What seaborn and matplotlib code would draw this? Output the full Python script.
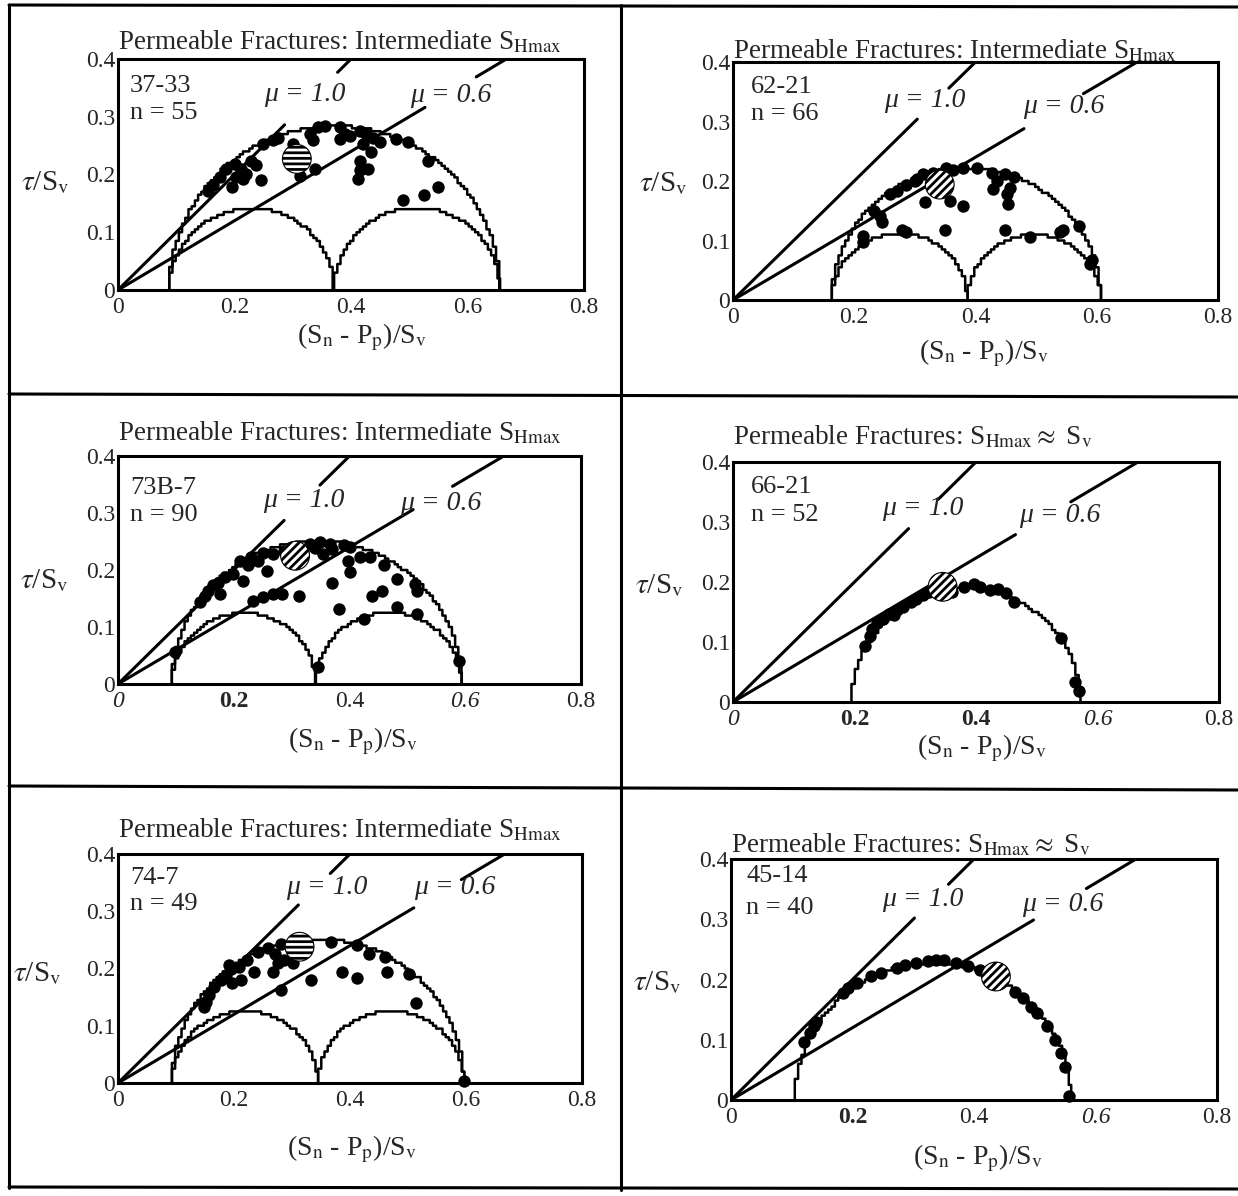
import numpy as np
import matplotlib
matplotlib.use("Agg")
import matplotlib.pyplot as plt
import seaborn as sns
from matplotlib.lines import Line2D

# ---- values ----
wells = ["37-33", "62-21", "73B-7", "66-21", "74-7", "45-14"]
n_frac = [55, 66, 90, 52, 49, 40]
equal_shmax = [False, False, False, True, False, True]   # S_Hmax ~ S_v panels

# effective principal stresses / Sv
s3 = [0.088, 0.163, 0.093, 0.195, 0.093, 0.105]
s2 = [0.371, 0.387, 0.342, 0.572, 0.345, 0.560]
s1 = [0.656, 0.607, 0.594, 0.572, 0.597, 0.560]

mu_vals = [1.0, 0.6]

# hatched symbol per well
mean_sn = [0.307, 0.341, 0.306, 0.345, 0.313, 0.436]
mean_tau = [0.227, 0.194, 0.225, 0.192, 0.238, 0.205]

# fracture points (normal stress, shear stress)
p1_sn = [0.155, 0.163, 0.175, 0.186, 0.200, 0.212, 0.220, 0.203, 0.195, 0.215,
         0.229, 0.237, 0.246, 0.249, 0.266, 0.275, 0.300, 0.329, 0.343, 0.355,
         0.381, 0.389, 0.381, 0.335, 0.398, 0.312, 0.338, 0.415, 0.426, 0.438,
         0.449, 0.421, 0.435, 0.415, 0.429, 0.415, 0.412, 0.478, 0.498, 0.532,
         0.489, 0.526, 0.549]
p1_tau = [0.172, 0.181, 0.195, 0.210, 0.218, 0.210, 0.201, 0.195, 0.178, 0.193,
          0.224, 0.216, 0.190, 0.253, 0.259, 0.264, 0.253, 0.270, 0.282, 0.284,
          0.282, 0.270, 0.261, 0.259, 0.267, 0.198, 0.210, 0.276, 0.270, 0.264,
          0.256, 0.253, 0.239, 0.224, 0.210, 0.207, 0.193, 0.261, 0.256, 0.224,
          0.155, 0.164, 0.178]

p2_sn = [0.215, 0.215, 0.242, 0.245, 0.259, 0.270, 0.286, 0.303, 0.314, 0.330,
         0.352, 0.363, 0.380, 0.402, 0.427, 0.435, 0.449, 0.463, 0.457, 0.452,
         0.454, 0.429, 0.317, 0.358, 0.380, 0.278, 0.286, 0.350, 0.449, 0.490,
         0.540, 0.545, 0.570, 0.592, 0.589, 0.232, 0.300]
p2_tau = [0.108, 0.097, 0.142, 0.131, 0.178, 0.183, 0.194, 0.203, 0.211, 0.214,
          0.222, 0.219, 0.222, 0.222, 0.214, 0.200, 0.211, 0.206, 0.189, 0.178,
          0.161, 0.186, 0.164, 0.167, 0.158, 0.117, 0.114, 0.117, 0.117, 0.106,
          0.114, 0.117, 0.125, 0.067, 0.061, 0.150, 0.200]

p3_sn = [0.098, 0.141, 0.150, 0.156, 0.165, 0.173, 0.176, 0.185, 0.199, 0.216,
         0.225, 0.234, 0.251, 0.268, 0.283, 0.312, 0.242, 0.257, 0.268, 0.286,
         0.332, 0.349, 0.367, 0.390, 0.401, 0.355, 0.398, 0.401, 0.369, 0.418,
         0.436, 0.459, 0.482, 0.514, 0.516, 0.439, 0.456, 0.381, 0.425, 0.482,
         0.516, 0.589, 0.346, 0.320, 0.210, 0.300, 0.230, 0.250, 0.340, 0.370]
p3_tau = [0.056, 0.143, 0.155, 0.164, 0.173, 0.178, 0.158, 0.187, 0.193, 0.181,
          0.208, 0.146, 0.152, 0.158, 0.158, 0.155, 0.216, 0.199, 0.228, 0.234,
          0.246, 0.249, 0.246, 0.243, 0.240, 0.228, 0.216, 0.196, 0.178, 0.222,
          0.222, 0.208, 0.184, 0.175, 0.164, 0.155, 0.164, 0.132, 0.114, 0.135,
          0.123, 0.041, 0.029, 0.231, 0.215, 0.215, 0.222, 0.230, 0.238, 0.236]

p4_sn = [0.218, 0.228, 0.237, 0.247, 0.257, 0.270, 0.280, 0.293, 0.302, 0.312,
         0.322, 0.335, 0.361, 0.380, 0.397, 0.406, 0.423, 0.436, 0.449, 0.462,
         0.540, 0.563, 0.569, 0.225, 0.265, 0.350]
p4_tau = [0.094, 0.122, 0.131, 0.139, 0.147, 0.153, 0.158, 0.167, 0.172, 0.178,
          0.183, 0.187, 0.183, 0.192, 0.197, 0.192, 0.186, 0.189, 0.181, 0.167,
          0.106, 0.033, 0.019, 0.110, 0.145, 0.180]

p5_sn = [0.148, 0.151, 0.157, 0.165, 0.177, 0.186, 0.194, 0.191, 0.209, 0.212,
         0.197, 0.235, 0.223, 0.241, 0.258, 0.270, 0.275, 0.267, 0.287, 0.301,
         0.281, 0.281, 0.333, 0.368, 0.386, 0.412, 0.412, 0.432, 0.461, 0.464,
         0.501, 0.513, 0.597]
p5_tau = [0.133, 0.142, 0.154, 0.168, 0.180, 0.188, 0.200, 0.206, 0.203, 0.180,
          0.174, 0.194, 0.214, 0.229, 0.235, 0.226, 0.209, 0.194, 0.214, 0.209,
          0.243, 0.162, 0.180, 0.246, 0.194, 0.183, 0.241, 0.226, 0.220, 0.194,
          0.191, 0.139, 0.004]

p6_sn = [0.120, 0.130, 0.137, 0.185, 0.192, 0.208, 0.247, 0.273, 0.286, 0.325,
         0.338, 0.351, 0.371, 0.390, 0.410, 0.468, 0.481, 0.494, 0.504, 0.520,
         0.533, 0.543, 0.550, 0.556, 0.140, 0.230, 0.305]
p6_tau = [0.097, 0.111, 0.122, 0.177, 0.186, 0.194, 0.211, 0.219, 0.224, 0.230,
          0.233, 0.233, 0.227, 0.222, 0.216, 0.180, 0.169, 0.155, 0.144, 0.122,
          0.100, 0.078, 0.055, 0.006, 0.130, 0.205, 0.228]

xticks = [0, 0.2, 0.4, 0.6, 0.8]
xtick_labels = ["0", "0.2", "0.4", "0.6", "0.8"]
yticks = [0, 0.1, 0.2, 0.3, 0.4]
ytick_labels = ["0", "0.1", "0.2", "0.3", "0.4"]

points = [(p1_sn, p1_tau), (p2_sn, p2_tau), (p3_sn, p3_tau),
          (p4_sn, p4_tau), (p5_sn, p5_tau), (p6_sn, p6_tau)]

# ---- layout (pixels of the 1238x1196 page) ----
W, H = 1238, 1196
axes_px = [(118, 584, 59, 290), (733, 1218, 62, 300),
           (118, 581, 456, 684), (733, 1219, 462, 702),
           (118, 582, 854, 1083), (731, 1217, 859, 1100)]
title_pad = [7, 2.5, 11, 13, 12, 5]
# gaps in the friction lines where the labels sit (mu=1, mu=0.6)
line_gaps = [[(0.286, 0.377), (0.527, 0.615)], [(0.304, 0.356), (0.480, 0.578)],
             [(0.287, 0.349), (0.510, 0.578)], [(0.289, 0.338), (0.465, 0.556)],
             [(0.311, 0.366), (0.510, 0.592)], [(0.302, 0.358), (0.498, 0.585)]]
mu_label_pos = [[(0.320, 0.339), (0.571, 0.336)], [(0.317, 0.336), (0.546, 0.325)],
                [(0.321, 0.322), (0.557, 0.316)], [(0.312, 0.322), (0.537, 0.311)],
                [(0.359, 0.342), (0.581, 0.342)], [(0.315, 0.332), (0.546, 0.324)]]
well_pos = [(0.020, 0.353, 0.307), (0.029, 0.358, 0.312), (0.021, 0.344, 0.296),
            (0.029, 0.358, 0.311), (0.021, 0.358, 0.313), (0.025, 0.371, 0.319)]
ylabel_pos = [(-0.157, 0.463), (-0.144, 0.49), (-0.16, 0.454),
              (-0.151, 0.486), (-0.174, 0.478), (-0.151, 0.485)]
xlabel_pos = [(0.523, -0.203), (0.518, -0.222), (0.508, -0.253),
              (0.512, -0.193), (0.504, -0.291), (0.508, -0.241)]
hatches = ["---", "////", "////", "////", "---", "////"]
# scan quirks in the x tick label fonts
xtick_styles = [None, None,
                [("italic", "normal"), ("normal", "bold"), ("normal", "normal"), ("italic", "normal"), ("normal", "normal")],
                [("italic", "normal"), ("normal", "bold"), ("normal", "bold"), ("italic", "normal"), ("normal", "normal")],
                None,
                [("normal", "normal"), ("normal", "bold"), ("normal", "normal"), ("italic", "normal"), ("normal", "normal")]]

sns.set_style("white")
plt.rcParams["font.family"] = ["Liberation Serif", "DejaVu Serif"]
plt.rcParams["mathtext.fontset"] = "stix"
plt.rcParams["hatch.linewidth"] = 2.0


def mohr_curve(lo, hi, qx=0.0055, qy=0.005):
    # coarse, plotter-like staircase of the half circle
    c, r = (lo + hi) / 2, (hi - lo) / 2
    th = np.linspace(np.pi, 0, 900)
    x = lo + np.round((c + r * np.cos(th) - lo) / qx) * qx
    x = np.minimum(x, hi)
    y = np.round(r * np.sin(th) / qy) * qy
    x[-1], y[-1] = hi, 0
    return x, y


fig = plt.figure(figsize=(W / 100, H / 100), dpi=100)

for i in range(6):
    l, r, t, b = axes_px[i]
    ax = fig.add_axes([l / W, 1 - b / H, (r - l) / W, (b - t) / H])
    ax.set_xlim(0, 0.8)
    ax.set_ylim(0, 0.4)

    # Mohr circles
    circles = [(s3[i], s1[i])]
    if not equal_shmax[i]:
        circles += [(s3[i], s2[i]), (s2[i], s1[i])]
    for lo, hi in circles:
        cx, cy = mohr_curve(lo, hi)
        ax.plot(cx, cy, color="black", lw=1.8, drawstyle="steps-post", zorder=2)

    # friction lines with a gap for the label
    for k, mu in enumerate(mu_vals):
        g0, g1 = line_gaps[i][k]
        ax.plot([0, g0], [0, mu * g0], color="black", lw=2.2, zorder=3)
        ax.plot([g1, 0.4 / mu], [mu * g1, 0.4], color="black", lw=2.2, zorder=3)
        lx, ly = mu_label_pos[i][k]
        ax.text(lx, ly, "\u03bc = %.1f" % mu, fontsize=20, fontstyle="italic",
                ha="center", va="center")

    sx, sy = points[i]
    sns.scatterplot(x=sx, y=sy, ax=ax, color="black", s=80, linewidth=0,
                    legend=False, zorder=4, clip_on=False)
    ax.scatter([mean_sn[i]], [mean_tau[i]], s=430, facecolor="white",
               edgecolor="black", hatch=hatches[i], linewidth=0.8, zorder=5)

    wx, wy1, wy2 = well_pos[i]
    ax.text(wx, wy1, wells[i], fontsize=19, ha="left", va="center")
    ax.text(wx, wy2, "n = %d" % n_frac[i], fontsize=19, ha="left", va="center")

    if equal_shmax[i]:
        title = r"Permeable Fractures: S$_{\mathrm{Hmax}}\approx$ S$_\mathrm{v}$"
    else:
        title = r"Permeable Fractures: Intermediate S$_{\mathrm{Hmax}}$"
    ax.set_title(title, loc="left", fontsize=19.5, pad=title_pad[i])

    ax.set_xticks(xticks)
    ax.set_xticklabels(xtick_labels)
    ax.set_yticks(yticks)
    ax.set_yticklabels(ytick_labels)
    ax.tick_params(direction="in", length=6, width=1.5, labelsize=17,
                   top=False, right=False)
    ax.tick_params(axis="x", pad=5)
    ax.tick_params(axis="y", pad=2)
    for lab in ax.get_yticklabels():
        lab.set_va("center_baseline")
    if xtick_styles[i] is not None:
        for lab, (st, wt) in zip(ax.get_xticklabels(), xtick_styles[i]):
            lab.set_fontstyle(st)
            lab.set_fontweight(wt)
    for sp in ax.spines.values():
        sp.set_linewidth(2.2)
        sp.set_color("black")

    ax.set_ylabel(r"$\tau$/S$_\mathrm{v}$", fontsize=21, rotation=0, va="center", ha="center")
    ax.yaxis.set_label_coords(*ylabel_pos[i])
    ax.set_xlabel(r"(S$_\mathrm{n}$ - P$_\mathrm{p}$)/S$_\mathrm{v}$", fontsize=20, va="center")
    ax.xaxis.set_label_coords(*xlabel_pos[i])

# page frame
frame = [((9, 5), (9, 1188)), ((621, 5), (621, 1190)),
         ((9, 5), (1238, 7)), ((9, 394), (1238, 397)),
         ((9, 786), (1238, 790)), ((9, 1187), (1238, 1189))]
for (x0, y0), (x1, y1) in frame:
    fig.add_artist(Line2D([x0 / W, x1 / W], [1 - y0 / H, 1 - y1 / H],
                          color="black", lw=2.2, transform=fig.transFigure))

fig.savefig("out.png", dpi=100, facecolor="white")
